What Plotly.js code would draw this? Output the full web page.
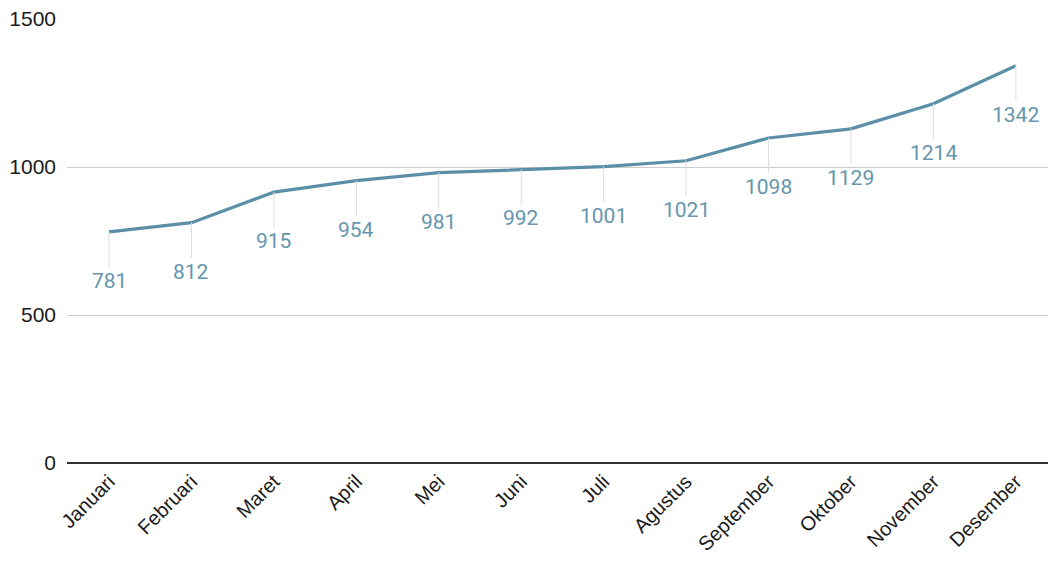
<!DOCTYPE html>
<html><head><meta charset="utf-8">
<script src="https://cdn.plot.ly/plotly-3.0.1.min.js"></script>
<style>html,body{margin:0;padding:0;background:#fff;}#chart{width:1048px;height:565px;}</style>
</head><body><div id="chart"></div>
<script>
const months = ["Januari","Februari","Maret","April","Mei","Juni","Juli","Agustus","September","Oktober","November","Desember"];
const values = [781,812,915,954,981,992,1001,1021,1098,1129,1214,1342];
const yTicks = [0,500,1000,1500];

const lineColor = "#5b8fa8";
const annotations = months.map((m,i)=>({
  x: m, y: values[i], xref:"x", yref:"y",
  text: String(values[i]),
  showarrow: true, arrowhead: 0, arrowwidth: 1, arrowcolor: "#dddddd",
  ax: 0, ay: 49, standoff: 0,
  font: {family: "Roboto, sans-serif", size: 21, color: "#6596ad"},
  yanchor: "middle"
}));

Plotly.newPlot("chart", [{
  x: months, y: values, type: "scatter", mode: "lines",
  line: {color: lineColor, width: 3.2},
  hoverinfo: "x+y"
}], {
  width: 1048, height: 565,
  margin: {l: 67, r: 0, t: 19, b: 102},
  paper_bgcolor: "#fff", plot_bgcolor: "#fff",
  showlegend: false,
  xaxis: {
    type: "category", range: [-0.51, 11.39], automargin: false,
    tickangle: -45, showgrid: false, zeroline: false, showline: false,
    ticks: "", ticklabelstandoff: 2,
    tickfont: {family: "Liberation Sans, Arial, sans-serif", size: 20, color: "#1a1a1a"}
  },
  yaxis: {
    range: [0, 1500], tickvals: yTicks, ticktext: yTicks.map(String), automargin: false,
    showgrid: true, gridcolor: "#cccccc", gridwidth: 1,
    zeroline: true, zerolinecolor: "#333333", zerolinewidth: 2,
    showline: false, ticks: "", ticklabelstandoff: 10,
    tickfont: {family: "Liberation Sans, Arial, sans-serif", size: 21, color: "#1a1a1a"}
  },
  annotations: annotations
}, {displayModeBar: false, staticPlot: true});
</script></body></html>
